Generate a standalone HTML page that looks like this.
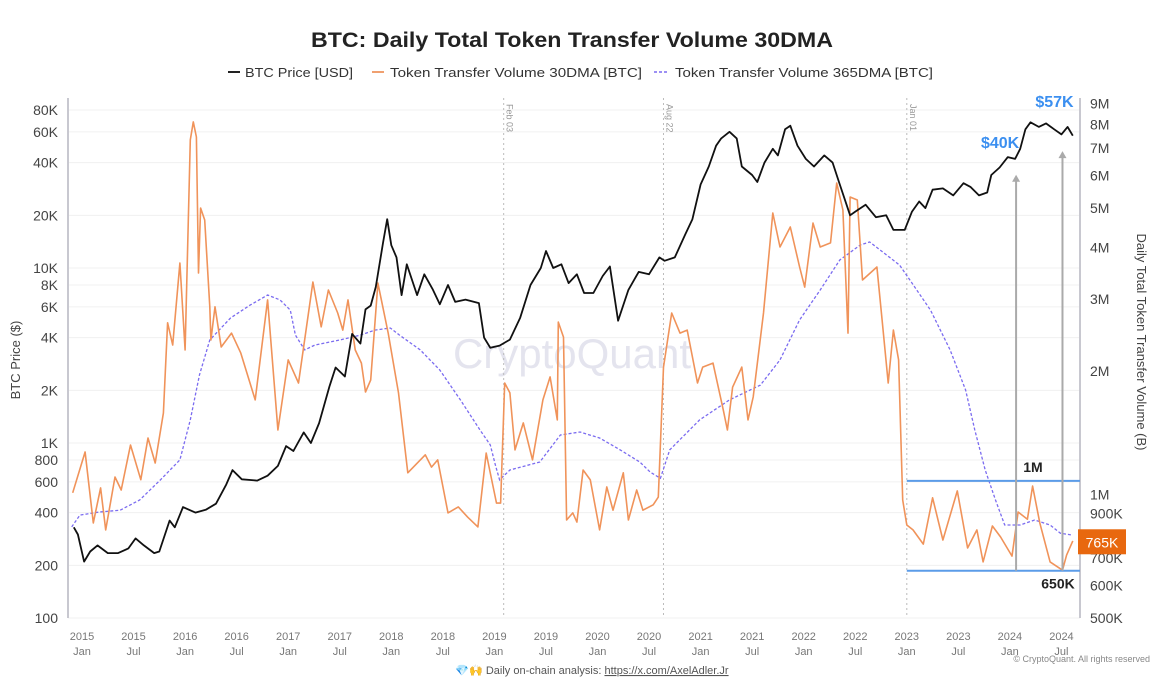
<!DOCTYPE html>
<html><head><meta charset="utf-8"><style>
html,body{margin:0;padding:0;background:#fff;}
svg{display:block;font-family:"Liberation Sans",sans-serif;}
</style></head><body>
<svg id="chart" width="1165" height="685" viewBox="0 0 1165 685" xmlns="http://www.w3.org/2000/svg">
<rect width="1165" height="685" fill="#fff"/>
<text x="572" y="47" text-anchor="middle" font-size="21" font-weight="bold" fill="#222" textLength="522" lengthAdjust="spacingAndGlyphs">BTC: Daily Total Token Transfer Volume 30DMA</text>
<g font-size="13" fill="#333">
 <g><line x1="228" y1="72" x2="240" y2="72" stroke="#222" stroke-width="2"/><text x="245" y="77" textLength="108" lengthAdjust="spacingAndGlyphs">BTC Price [USD]</text></g>
 <g><line x1="372" y1="72" x2="384" y2="72" stroke="#f0a070" stroke-width="2"/><text x="390" y="77" textLength="252" lengthAdjust="spacingAndGlyphs">Token Transfer Volume 30DMA [BTC]</text></g>
 <g><line x1="654" y1="72" x2="668" y2="72" stroke="#7b6cf0" stroke-width="1.5" stroke-dasharray="3,2"/><text x="675" y="77" textLength="258" lengthAdjust="spacingAndGlyphs">Token Transfer Volume 365DMA [BTC]</text></g>
</g>
<g id="grid"></g>
<text x="572" y="368" text-anchor="middle" font-size="42" fill="#e4e4ee">CryptoQuant</text>
<g id="events"></g>
<g id="axes"></g>
<g id="series"></g>
<g id="annot"></g>
<text transform="translate(20,360) rotate(-90)" text-anchor="middle" font-size="13" fill="#444">BTC Price ($)</text>
<text transform="translate(1137,342) rotate(90)" text-anchor="middle" font-size="13" fill="#444">Daily Total Token Transfer Volume (B)</text>
<text x="592" y="674" text-anchor="middle" font-size="11" fill="#555">💎🙌 Daily on-chain analysis: <tspan text-decoration="underline">https://x.com/AxelAdler.Jr</tspan></text>
<text x="1150" y="662" text-anchor="end" font-size="9" fill="#888">© CryptoQuant. All rights reserved</text>
</svg>
<script>
const leftTicks = [100,200,400,600,800,1000,2000,4000,6000,8000,10000,20000,40000,60000,80000];
const leftTickLabels = ["100","200","400","600","800","1K","2K","4K","6K","8K","10K","20K","40K","60K","80K"];
const rightTicks = [500,600,700,900,1000,2000,3000,4000,5000,6000,7000,8000,9000];
const rightTickLabels = ["500K","600K","700K","900K","1M","2M","3M","4M","5M","6M","7M","8M","9M"];
const xTickYears = [2015,2015.5,2016,2016.5,2017,2017.5,2018,2018.5,2019,2019.5,2020,2020.5,2021,2021.5,2022,2022.5,2023,2023.5,2024,2024.5];
const xTickLabels = ["2015|Jan","2015|Jul","2016|Jan","2016|Jul","2017|Jan","2017|Jul","2018|Jan","2018|Jul","2019|Jan","2019|Jul","2020|Jan","2020|Jul","2021|Jan","2021|Jul","2022|Jan","2022|Jul","2023|Jan","2023|Jul","2024|Jan","2024|Jul"];
const eventDates = [2019.09,2020.64,2023.0];
const eventLabels = ["Feb 03","Aug 22","Jan 01"];

const priceT = [2014.92,2014.96,2015.02,2015.08,2015.15,2015.25,2015.35,2015.45,2015.52,2015.6,2015.7,2015.75,2015.85,2015.9,2015.98,2016.1,2016.2,2016.3,2016.4,2016.46,2016.55,2016.7,2016.8,2016.9,2016.98,2017.05,2017.15,2017.22,2017.3,2017.4,2017.46,2017.55,2017.62,2017.7,2017.75,2017.8,2017.85,2017.92,2017.96,2018.0,2018.05,2018.1,2018.15,2018.25,2018.32,2018.4,2018.47,2018.55,2018.62,2018.72,2018.85,2018.9,2018.96,2019.05,2019.15,2019.25,2019.35,2019.45,2019.5,2019.57,2019.65,2019.72,2019.8,2019.87,2019.96,2020.05,2020.12,2020.2,2020.3,2020.4,2020.5,2020.6,2020.65,2020.75,2020.85,2020.92,2021.0,2021.08,2021.15,2021.2,2021.28,2021.35,2021.4,2021.5,2021.55,2021.62,2021.7,2021.75,2021.82,2021.87,2021.94,2022.02,2022.1,2022.2,2022.28,2022.35,2022.45,2022.5,2022.6,2022.7,2022.8,2022.87,2022.98,2023.05,2023.12,2023.18,2023.25,2023.35,2023.45,2023.55,2023.62,2023.7,2023.78,2023.82,2023.9,2023.98,2024.05,2024.1,2024.15,2024.2,2024.28,2024.35,2024.43,2024.5,2024.56,2024.61];
const priceUSD = [330,300,210,240,260,235,235,250,285,260,235,240,360,330,430,400,415,450,580,700,620,610,650,740,960,900,1150,1000,1300,2100,2700,2400,4200,3700,5800,6100,7800,14000,19000,13500,11500,7000,10500,7000,9200,7600,6200,8000,6400,6600,6300,4000,3500,3600,3900,5200,8000,10000,12500,10000,10500,8200,9200,7200,7200,9000,10200,5000,7500,9500,9200,11500,11000,11500,15500,19000,30000,38000,50000,55000,60000,55000,38000,34000,31000,40000,48000,44000,62000,65000,50000,42000,38000,44000,40000,30000,20000,21000,23000,19500,20000,16500,16500,21000,24000,22000,28000,28500,26000,30500,29000,26000,27000,34000,37500,43000,42000,48000,62000,68000,64000,67000,62000,58000,64000,57000];

const vol30T = [2014.91,2015.03,2015.11,2015.18,2015.23,2015.32,2015.38,2015.47,2015.57,2015.64,2015.71,2015.79,2015.83,2015.88,2015.95,2016.0,2016.05,2016.08,2016.11,2016.13,2016.15,2016.19,2016.24,2016.25,2016.29,2016.35,2016.45,2016.54,2016.68,2016.8,2016.9,2017.0,2017.1,2017.24,2017.32,2017.39,2017.48,2017.53,2017.58,2017.65,2017.71,2017.75,2017.8,2017.87,2017.97,2018.07,2018.16,2018.33,2018.39,2018.45,2018.55,2018.65,2018.74,2018.84,2018.92,2019.02,2019.06,2019.1,2019.15,2019.2,2019.28,2019.37,2019.47,2019.54,2019.61,2019.62,2019.67,2019.7,2019.76,2019.8,2019.86,2019.93,2020.02,2020.09,2020.15,2020.25,2020.3,2020.38,2020.44,2020.54,2020.59,2020.64,2020.72,2020.8,2020.87,2020.97,2021.02,2021.12,2021.22,2021.26,2021.31,2021.4,2021.46,2021.51,2021.61,2021.7,2021.77,2021.87,2021.96,2022.01,2022.09,2022.16,2022.26,2022.32,2022.38,2022.43,2022.45,2022.52,2022.57,2022.71,2022.76,2022.82,2022.87,2022.92,2022.96,2023.0,2023.06,2023.16,2023.25,2023.35,2023.49,2023.59,2023.68,2023.74,2023.83,2023.91,2024.02,2024.08,2024.17,2024.22,2024.29,2024.39,2024.51,2024.55,2024.61];
const vol30K = [1010,1270,853,1038,820,1104,1026,1321,1087,1374,1194,1581,2624,2317,3671,2254,7328,8110,7450,3470,5000,4675,2870,2382,2870,2290,2477,2214,1702,2984,1437,2130,1871,3300,2564,3155,2773,2518,2984,2254,2093,1779,1903,3280,2477,1770,1130,1250,1167,1215,902,933,881,834,1262,953,953,1871,1770,1285,1496,1215,1702,1936,1521,2635,2422,867,902,857,1148,1086,820,1044,916,1130,867,1026,916,944,986,2046,2773,2477,2518,1871,2046,2093,1607,1437,1828,2046,1521,1730,2773,4862,4017,4493,3590,3206,4594,4017,4109,5750,4945,2477,5320,5231,3337,3590,2667,1871,2518,2130,970,843,820,757,982,775,1021,741,820,685,838,788,708,907,871,1049,853,685,654,712,771];

const vol365T = [2014.9,2014.98,2015.17,2015.37,2015.56,2015.76,2015.95,2016.05,2016.1,2016.14,2016.24,2016.44,2016.63,2016.8,2016.92,2017.02,2017.07,2017.16,2017.26,2017.5,2017.7,2017.84,2017.99,2018.08,2018.28,2018.47,2018.67,2018.86,2018.96,2019.01,2019.05,2019.15,2019.44,2019.64,2019.83,2020.02,2020.22,2020.41,2020.51,2020.61,2020.7,2020.99,2021.28,2021.58,2021.77,2021.96,2022.16,2022.35,2022.55,2022.64,2022.74,2022.93,2023.03,2023.23,2023.42,2023.57,2023.66,2023.76,2023.86,2023.95,2024.1,2024.24,2024.39,2024.49,2024.61];
const vol365K = [834,891,907,916,970,1086,1215,1521,1750,1959,2383,2696,2899,3067,2984,2818,2449,2254,2317,2383,2449,2518,2548,2449,2254,2013,1702,1437,1321,1180,1086,1148,1201,1397,1421,1374,1285,1201,1135,1096,1285,1521,1702,1849,2130,2667,3155,3734,4064,4131,3952,3628,3337,2818,2254,1799,1437,1148,970,843,843,867,843,805,796];

const levelValues = [1080,652];
const levelLabels = ["1M","650K"];
const arrowDates = [2024.06,2024.51];
const arrowPrices = [41000,56000];
const arrowLabels = ["$40K","$57K"];
const lastValueLabel = "765K";
const lastValue = 765;

const X0=68, X1=1080, Y0=98, Y1=618;
const xS = t => 82 + (t-2015)*103.1;
const yP = p => 618 - 175*Math.log10(p/100);
const yV = v => 618 - 410*Math.log10(v/500);
const NS="http://www.w3.org/2000/svg";
function mk(tag, attrs, parent){const e=document.createElementNS(NS,tag);for(const k in attrs)e.setAttribute(k,attrs[k]);parent.appendChild(e);return e;}

const grid=document.getElementById('grid');
leftTicks.forEach((v,i)=>{
  const l=mk('line',{x1:X0,x2:X1,y1:yP(v),y2:yP(v),stroke:'#f0f0f0','stroke-width':1},grid);
  
  
});
const axes=document.getElementById('axes');
let a=mk('line',{x1:X0,x2:X0,y1:Y0,y2:Y1,stroke:'#c8c8d0','stroke-width':2},axes);


a=mk('line',{x1:X1,x2:X1,y1:Y0,y2:Y1,stroke:'#c8c8d0','stroke-width':2},axes);


leftTicks.forEach((v,i)=>{
  const t=mk('text',{x:58,y:yP(v)+5,'text-anchor':'end','font-size':14,fill:'#444'},axes);
  t.textContent=leftTickLabels[i];
  
  
});
rightTicks.forEach((v,i)=>{
  const t=mk('text',{x:1090,y:yV(v)+5,'font-size':14,fill:'#444'},axes);
  t.textContent=rightTickLabels[i];
  
  
});
xTickYears.forEach((y,i)=>{
  const x=xS(y);
  const parts=xTickLabels[i].split('|');
  const t1=mk('text',{x:x,y:640,'text-anchor':'middle','font-size':11,fill:'#777'},axes);
  t1.textContent=parts[0];
  
  
  const t2=mk('text',{x:x,y:655,'text-anchor':'middle','font-size':11,fill:'#777'},axes);
  t2.textContent=parts[1];
  
  
});
const ev=document.getElementById('events');
eventDates.forEach((d,i)=>{
  const x=xS(d);
  const l=mk('line',{x1:x,x2:x,y1:Y0,y2:Y1,stroke:'#bbb','stroke-width':1,'stroke-dasharray':'2,3'},ev);
  
  
  const t=mk('text',{transform:`translate(${x+3},104) rotate(90)`,'font-size':9,fill:'#999'},ev);
  t.textContent=eventLabels[i];
  
  
});
function path(ts,vs,yf){return ts.map((t,i)=>(i?'L':'M')+xS(t).toFixed(1)+','+yf(vs[i]).toFixed(1)).join('');}
const ser=document.getElementById('series');
let p=mk('path',{d:path(vol365T,vol365K,yV),fill:'none',stroke:'#7b6cf0','stroke-width':1.3,'stroke-dasharray':'3,2'},ser);


p=mk('path',{d:path(vol30T,vol30K,yV),fill:'none',stroke:'#f0935a','stroke-width':1.6,'stroke-linejoin':'round'},ser);


p=mk('path',{d:path(priceT,priceUSD,yP),fill:'none',stroke:'#111','stroke-width':1.8,'stroke-linejoin':'round'},ser);



const an=document.getElementById('annot');
levelValues.forEach((v,i)=>{
  const y=yV(v);
  const l=mk('line',{x1:xS(2023),x2:X1,y1:y,y2:y,stroke:'#5b9ce8','stroke-width':2},an);
  
  
  const t=mk('text',{x:i===0?1033:1058,y:i===0?y-9:y+18,'text-anchor':'middle','font-size':14,'font-weight':'bold',fill:'#222'},an);
  t.textContent=levelLabels[i];
  
  
});
arrowDates.forEach((d,i)=>{
  const x=xS(d), yt=yP(arrowPrices[i])+14, yb=yV(levelValues[1]);
  const l=mk('line',{x1:x,x2:x,y1:yb,y2:yt+6,stroke:'#aaa','stroke-width':2},an);
  
  
  const h=mk('path',{d:`M${x-4},${yt+7}L${x},${yt}L${x+4},${yt+7}Z`,fill:'#aaa'},an);
  
  
  const t=mk('text',{x:x-(i===0?16:8),y:yP(arrowPrices[i])-(i===0?13:30),'text-anchor':'middle','font-size':16,'font-weight':'bold',fill:'#3b8ff0'},an);
  t.textContent=arrowLabels[i];
  
  
});
const by=yV(lastValue);
const box=mk('rect',{x:1078,y:by-13,width:48,height:25,fill:'#e8680f'},an);


const bt=mk('text',{x:1102,y:by+5,'text-anchor':'middle','font-size':14,fill:'#fff'},an);
bt.textContent=lastValueLabel;


</script>
</body></html>
